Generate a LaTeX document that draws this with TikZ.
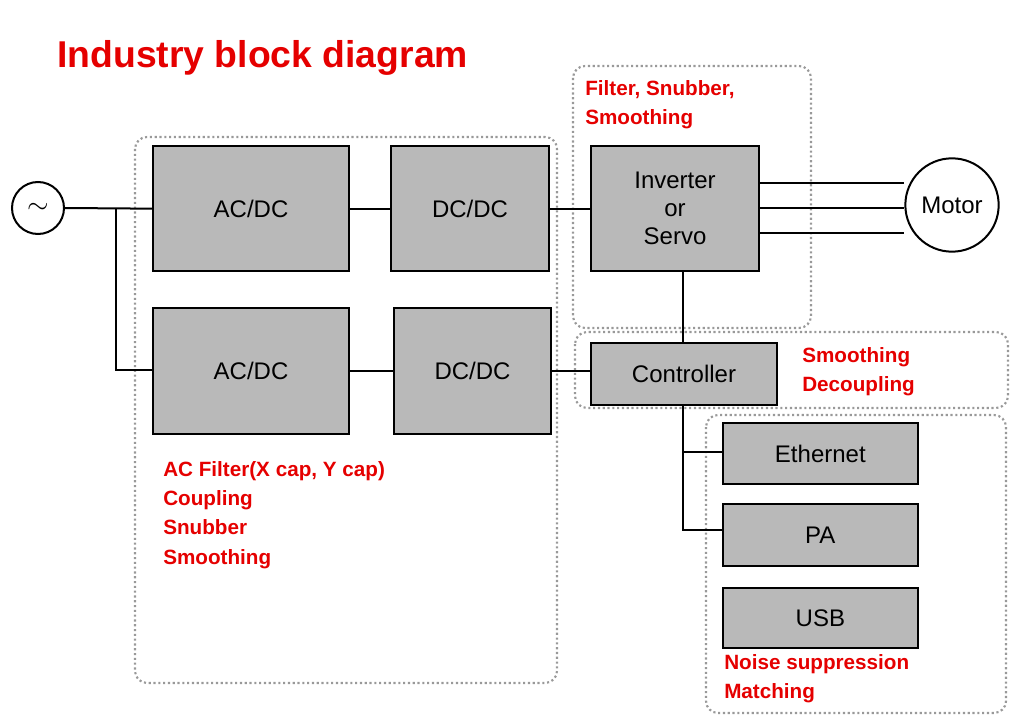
\documentclass[tikz,border=0pt]{standalone}
\usepackage{fontspec}
\setmainfont{Liberation Sans}
\begin{document}
\begin{tikzpicture}[x=0.75pt,y=-0.75pt,
  blk/.style={draw=black,line width=1.5pt,fill=gray!55!white,anchor=north west,inner sep=0pt,font=\fontsize{18}{21}\selectfont,align=center},
  grp/.style={draw=gray!80,dotted,line width=1.6pt,rounded corners=9pt},
  lbl/.style={text=red!90!black,font=\fontsize{15.5}{22}\selectfont\bfseries,align=left,anchor=north west,inner sep=0pt},
  wire/.style={line width=1.5pt}]
\useasboundingbox (0,0) rectangle (1019,720);
\node[lbl,font=\fontsize{28}{32}\selectfont\bfseries] (title) at (57,40) {Industry block diagram};
\draw[grp] (135,137) rectangle (557,683);
\draw[grp] (573,66) rectangle (811,328);
\draw[grp] (575,332) rectangle (1008,408);
\draw[grp] (706,415) rectangle (1006,713);
\node[draw,circle,line width=1.5pt,minimum size=39pt,inner sep=0pt,font=\fontsize{22}{22}\selectfont] (src) at (38,208) {$\sim$};
\node[blk,minimum width=147pt,minimum height=94pt] (ac1) at (152,145) {AC/DC};
\node[blk,minimum width=118.5pt,minimum height=94pt] (dc1) at (390,145) {DC/DC};
\node[blk,minimum width=126pt,minimum height=94pt] (inv) at (590,145) {Inverter\\or\\Servo};
\node[draw,circle,line width=1.5pt,minimum size=70pt,inner sep=0pt,font=\fontsize{18}{21}\selectfont] (mot) at (952,205) {Motor};
\node[blk,minimum width=147pt,minimum height=94.5pt] (ac2) at (152,307) {AC/DC};
\node[blk,minimum width=117.75pt,minimum height=94.5pt] (dc2) at (393,307) {DC/DC};
\node[blk,minimum width=139.5pt,minimum height=46.5pt] (ctl) at (590,342) {Controller};
\node[blk,minimum width=146pt,minimum height=46pt] (eth) at (722,422) {Ethernet};
\node[blk,minimum width=146pt,minimum height=46.5pt] (pa) at (722,503) {PA};
\node[blk,minimum width=146pt,minimum height=45pt] (usb) at (722,587) {USB};
\coordinate (j1) at (116,208);
\coordinate (j2) at (116,370);
\draw[wire] (src.east) -- (ac1.west);
\draw[wire] (j1) -- (j2) -- (j2 -| ac2.west);
\draw[wire] (ac1) -- (dc1);
\draw[wire] (dc1) -- (inv);
\draw[wire] (ac2) -- (dc2);
\draw[wire] (dc2.east) -- (dc2.east -| ctl.west);
\coordinate (cx) at (683,0);
\draw[wire] (cx |- inv.south) -- (cx |- ctl.north);
\coordinate (e1) at (683,452);
\coordinate (p1) at (683,530);
\draw[wire] (cx |- ctl.south) -- (p1) -- (p1 -| pa.west);
\draw[wire] (e1) -- (e1 -| eth.west);
\foreach \yy in {183,208,233} \draw[wire] (758,\yy) -- (mot.west |- 0,\yy) ;
\node[lbl] (l1) at (585,80) {Filter, Snubber,\\Smoothing};
\node[lbl] (l2) at (802,347) {Smoothing\\Decoupling};
\node[lbl] (l3) at (163,461) {AC Filter(X cap, Y cap)\\Coupling\\Snubber\\Smoothing};
\node[lbl] (l4) at (724,654) {Noise suppression\\Matching};
\end{tikzpicture}
\end{document}
